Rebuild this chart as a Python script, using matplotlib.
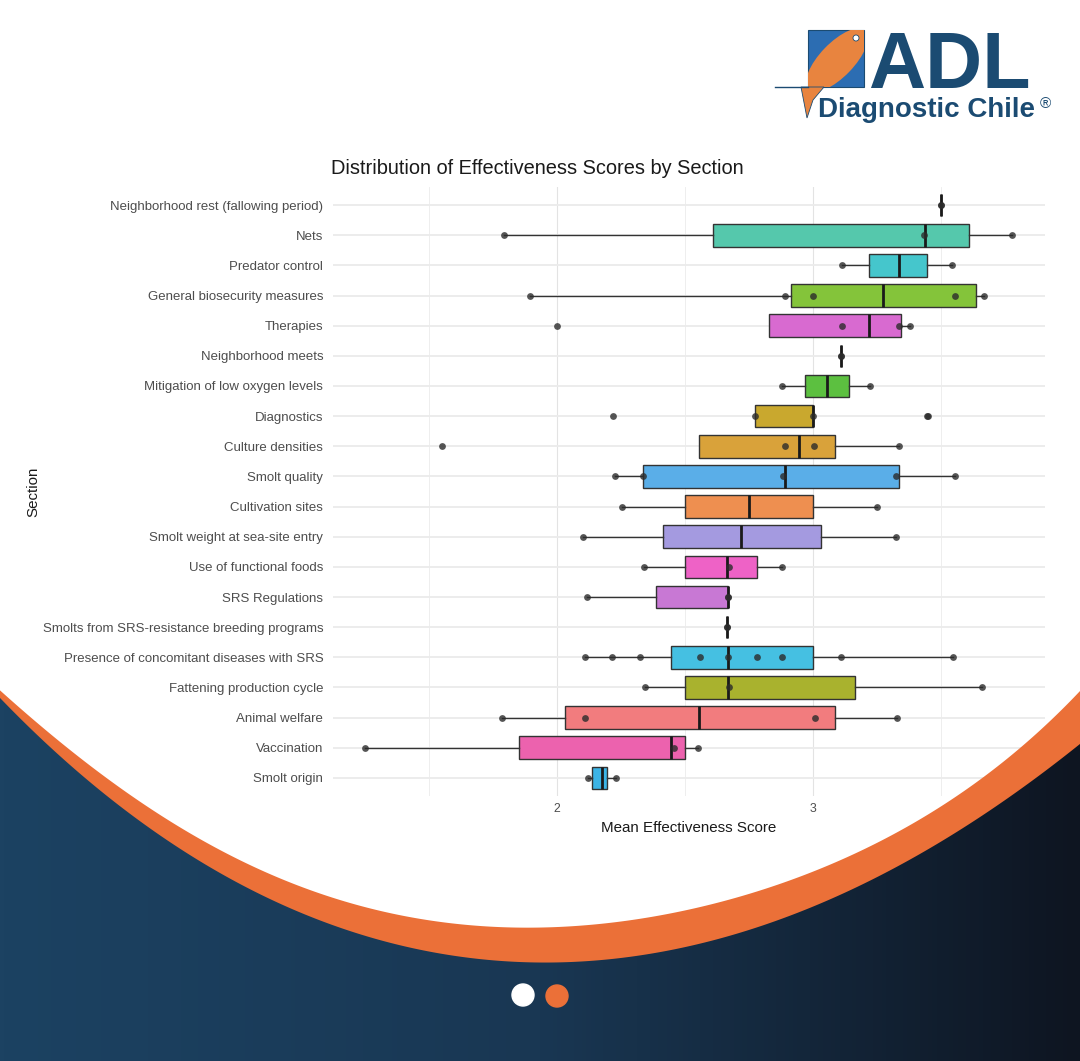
import numpy as np
import matplotlib.pyplot as plt
from matplotlib.patches import Rectangle, Ellipse, Polygon, Circle
from matplotlib.colors import LinearSegmentedColormap

plt.rcParams['font.family'] = ['Liberation Sans', 'DejaVu Sans']

# rows, top to bottom
sections = [
    "Neighborhood rest (fallowing period)", "Nets", "Predator control",
    "General biosecurity measures", "Therapies", "Neighborhood meets",
    "Mitigation of low oxygen levels", "Diagnostics", "Culture densities",
    "Smolt quality", "Cultivation sites", "Smolt weight at sea-site entry",
    "Use of functional foods", "SRS Regulations",
    "Smolts from SRS-resistance breeding programs",
    "Presence of concomitant diseases with SRS", "Fattening production cycle",
    "Animal welfare", "Vaccination", "Smolt origin",
]

# box statistics
whis_lo = [3.50, 1.79, 3.115, 1.895, 2.83, 3.11, 2.88, 2.775, 2.555, 2.225,
           2.255, 2.10, 2.34, 2.115, 2.665, 2.11, 2.345, 1.785, 1.25, 2.12]
q1 = [3.50, 2.61, 3.22, 2.915, 2.83, 3.11, 2.97, 2.775, 2.555, 2.335,
      2.50, 2.415, 2.50, 2.385, 2.665, 2.445, 2.50, 2.03, 1.85, 2.135]
medians = [3.50, 3.44, 3.335, 3.275, 3.22, 3.11, 3.055, 3.0, 2.945, 2.89,
           2.75, 2.72, 2.665, 2.67, 2.665, 2.667, 2.667, 2.555, 2.445, 2.175]
q3 = [3.50, 3.61, 3.445, 3.64, 3.345, 3.11, 3.14, 3.0, 3.085, 3.335,
      3.0, 3.03, 2.78, 2.67, 2.665, 3.0, 3.165, 3.085, 2.50, 2.195]
whis_hi = [3.50, 3.78, 3.545, 3.67, 3.38, 3.11, 3.225, 3.0, 3.335, 3.555,
           3.25, 3.325, 2.88, 2.67, 2.665, 3.55, 3.66, 3.33, 2.55, 2.23]

# individual section means (jittered points)
points = [
    [3.5, 3.5],
    [1.79, 3.435, 3.78],
    [3.115, 3.545],
    [1.895, 2.89, 3.0, 3.555, 3.67],
    [2.0, 3.115, 3.335, 3.38],
    [3.11, 3.11],
    [2.88, 3.225],
    [2.22, 2.775, 3.0, 3.445, 3.45],
    [1.55, 2.89, 3.005, 3.335],
    [2.225, 2.335, 2.885, 3.325, 3.555],
    [2.255, 3.25],
    [2.10, 3.325],
    [2.34, 2.672, 2.88],
    [2.115, 2.67, 2.67],
    [2.665, 2.665],
    [2.11, 2.215, 2.325, 2.56, 2.67, 2.78, 2.88, 3.11, 3.55],
    [2.345, 2.672, 3.66],
    [1.785, 2.11, 3.01, 3.33],
    [1.25, 2.455, 2.55],
    [2.12, 2.23],
]

box_colors = ["#2EC48C", "#55C8AC", "#45C6CC", "#84C43A", "#D86AD0", "#30C060",
              "#5CC040", "#C9A82E", "#D9A23A", "#5AAEE8", "#EE8F50", "#A49AE0",
              "#EE62C6", "#C878D4", "#C77CFF", "#45C0E2", "#A9B22E", "#F27C7E",
              "#EC62AE", "#3CB4E6"]

x_ticks = [2, 3]
x_minor = [1.5, 2.5, 3.5]

W, H = 1080, 1061
fig = plt.figure(figsize=(W / 100, H / 100), dpi=100)
fig.patch.set_facecolor('white')

# chart panel
ax = fig.add_axes([333 / W, 1 - 796 / H, 712 / W, 609 / H])
ax.set_facecolor('white')
pos = np.arange(len(sections))
stats = [dict(med=m, q1=a, q3=b, whislo=lo, whishi=hi, fliers=[])
         for lo, a, m, b, hi in zip(whis_lo, q1, medians, q3, whis_hi)]
bp = ax.bxp(stats, positions=pos, orientation='horizontal', widths=0.75,
            patch_artist=True, showfliers=False, showcaps=False,
            boxprops=dict(edgecolor='#333333', linewidth=1.0),
            whiskerprops=dict(color='#333333', linewidth=1.0),
            medianprops=dict(color='#1a1a1a', linewidth=2.0),
            zorder=3)
for patch, c in zip(bp['boxes'], box_colors):
    patch.set_facecolor(c)

for i, vals in enumerate(points):
    ax.scatter(vals, [i] * len(vals), s=24, color='#2b2b2b', alpha=0.8,
               linewidths=0, zorder=4)

ax.set_xlim(1.123, 3.908)
ax.set_ylim(len(sections) - 0.4, -0.6)
ax.set_xticks(x_ticks)
ax.set_xticks(x_minor, minor=True)
ax.set_yticks(pos)
ax.set_yticklabels(sections, fontsize=9.5, color='#4D4D4D')
ax.tick_params(axis='x', labelsize=8.8, labelcolor='#4D4D4D', length=0, pad=5)
ax.tick_params(axis='y', length=0, pad=7)
ax.tick_params(which='minor', length=0)
ax.grid(True, which='major', axis='y', color='#EBEBEB', linewidth=1.3, zorder=0)
ax.grid(True, which='major', axis='x', color='#E3E3E3', linewidth=0.8, zorder=0)
ax.grid(True, which='minor', axis='x', color='#EBEBEB', linewidth=0.6, zorder=0)
ax.set_axisbelow(True)
for s in ax.spines.values():
    s.set_visible(False)
ax.set_title('Distribution of Effectiveness Scores by Section', loc='left',
             fontsize=14.4, pad=9, color='#1a1a1a', x=-0.003)
ax.set_xlabel('Mean Effectiveness Score', fontsize=10.9, color='#1a1a1a', labelpad=4)
ax.set_ylabel('Section', fontsize=10.9, color='#1a1a1a', labelpad=2)

# slide decoration drawn over the chart, in pixel units
bg = fig.add_axes([0, 0, 1, 1], zorder=10)
bg.patch.set_alpha(0)
bg.axis('off')

white_x = np.array([0, 103, 207, 310, 413, 540, 678, 815, 919, 1022, 1080])
white_y = np.array([692, 770, 847, 893, 915, 925, 913, 873, 820, 743, 693])
dark_x = np.array([0, 103, 207, 310, 413, 540, 678, 815, 919, 988, 1080])
dark_y = np.array([700, 787, 867, 923, 947, 957, 947, 913, 857, 803, 747])
xx = np.linspace(0, W, 500)
wy = np.polyval(np.polyfit(white_x, white_y, 5), xx)
dy = np.polyval(np.polyfit(dark_x, dark_y, 5), xx)

bg.fill_between(xx, wy, H, color='#EB7038', linewidth=0)
dark_poly = Polygon(np.column_stack([np.r_[xx, W, 0], np.r_[dy, H, H]]),
                    closed=True, facecolor='none', edgecolor='none')
bg.add_patch(dark_poly)
cmap = LinearSegmentedColormap.from_list('navy', ['#1C4262', '#193753', '#0E1521'])
im = bg.imshow(np.linspace(0, 1, 256).reshape(1, -1), extent=[0, W, H, 650],
               cmap=cmap, aspect='auto', zorder=2)
im.set_clip_path(dark_poly)

bg.add_patch(Circle((523, 995), 11, color='white', zorder=3))
bg.add_patch(Circle((557, 996), 11, color='#EB7038', zorder=3))

# logo
navy = '#1B4B72'
square = Rectangle((808, 30), 56, 57, facecolor='#2C6DB2', edgecolor=navy,
                   linewidth=0.8, zorder=3)
bg.add_patch(square)
fish = Ellipse((837, 60), 82, 34, angle=-46, facecolor='#E8843F',
               edgecolor='none', zorder=4)
bg.add_patch(fish)
fish.set_clip_path(square)
bg.add_patch(Circle((856, 38), 3, facecolor='white', edgecolor=navy,
                    linewidth=0.6, zorder=5))
bg.add_patch(Polygon([(801, 87), (824, 87), (813, 100), (807, 118)],
                     closed=True, facecolor='#E8843F', edgecolor=navy,
                     linewidth=0.6, zorder=4))
bg.plot([775, 808], [87, 87], color=navy, linewidth=1.0, zorder=4)
bg.text(868, 88, 'ADL', fontsize=57, fontweight='bold', color=navy,
        ha='left', va='baseline', zorder=5)
bg.text(818, 117, 'Diagnostic Chile', fontsize=20, fontweight='bold',
        color=navy, ha='left', va='baseline', zorder=5)
bg.text(1040, 108, '\u00ae', fontsize=11, color=navy, ha='left',
        va='baseline', zorder=5)

bg.set_xlim(0, W)
bg.set_ylim(H, 0)

fig.savefig('out.png', dpi=100)
